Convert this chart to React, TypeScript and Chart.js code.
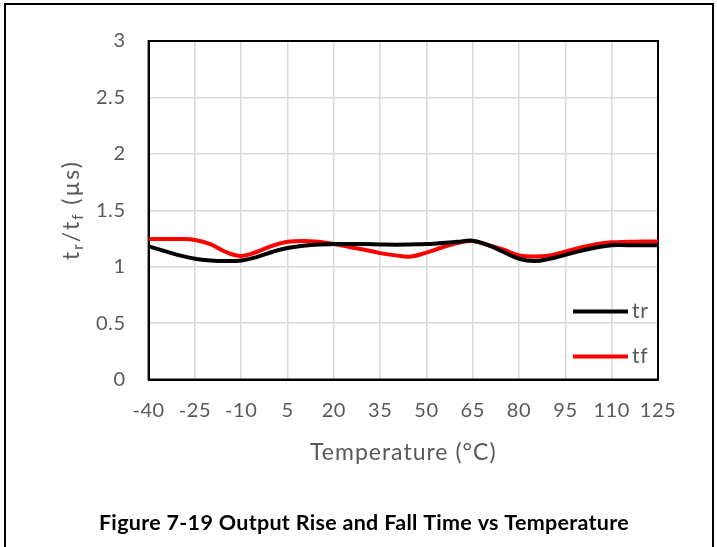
import React, { useEffect, useRef } from "react";
import { Chart, registerables } from "chart.js";

Chart.register(...registerables);

const temps = [-40, -35, -30, -25, -20, -15, -10, -5, 0, 5, 10, 15, 20, 25, 30, 35, 40, 45, 50, 55, 60, 65, 70, 75, 80, 85, 90, 95, 100, 105, 110, 115, 120, 125];
const trValues = [1.18, 1.14, 1.1, 1.07, 1.055, 1.05, 1.055, 1.085, 1.13, 1.165, 1.185, 1.197, 1.2, 1.2, 1.2, 1.197, 1.195, 1.197, 1.2, 1.21, 1.22, 1.23, 1.19, 1.13, 1.07, 1.05, 1.07, 1.105, 1.14, 1.17, 1.19, 1.19, 1.19, 1.19];
const tfValues = [1.245, 1.245, 1.245, 1.237, 1.2, 1.13, 1.095, 1.13, 1.185, 1.22, 1.228, 1.22, 1.2, 1.175, 1.15, 1.12, 1.1, 1.09, 1.125, 1.17, 1.21, 1.228, 1.19, 1.15, 1.1, 1.09, 1.1, 1.133, 1.17, 1.2, 1.216, 1.22, 1.222, 1.222];
const xTickLabels = [-40, -25, -10, 5, 20, 35, 50, 65, 80, 95, 110, 125];
const yTickValues = [0, 0.5, 1, 1.5, 2, 2.5, 3];
const seriesNames = ["tr", "tf"];
const seriesColors = ["#000000", "#ff0000"];

const FONT = "Lato, 'Open Sans', sans-serif";
const GRAY = "#595959";

const decorPlugin = {
  id: "decor",
  beforeDraw(chart: any) {
    chart.ctx.letterSpacing = "0.6px";
  },
  beforeDatasetsDraw(chart: any) {
    const { ctx, chartArea: a } = chart;
    ctx.save();
    ctx.strokeStyle = "#000";
    ctx.lineWidth = 2;
    ctx.strokeRect(a.left, a.top, a.right - a.left, a.bottom - a.top);
    ctx.restore();
  },
  afterDraw(chart: any) {
    const { ctx, chartArea: a } = chart;
    ctx.save();
    // outer figure border
    ctx.strokeStyle = "#000";
    ctx.lineWidth = 2;
    ctx.beginPath();
    ctx.moveTo(5, 547);
    ctx.lineTo(5, 4);
    ctx.lineTo(713, 4);
    ctx.lineTo(713, 547);
    ctx.stroke();

    // legend (inside plot)
    const legY = [311.5, 356.5];
    chart.data.datasets.forEach((ds: any, i: number) => {
      ctx.strokeStyle = ds.borderColor;
      ctx.lineWidth = 4;
      ctx.beginPath();
      ctx.moveTo(573, legY[i]);
      ctx.lineTo(628, legY[i]);
      ctx.stroke();
      ctx.fillStyle = GRAY;
      ctx.font = `21px ${FONT}`;
      ctx.textAlign = "left";
      ctx.textBaseline = "middle";
      ctx.fillText(ds.label, 632, legY[i]);
    });

    // x axis title
    ctx.fillStyle = GRAY;
    ctx.letterSpacing = "1px";
    ctx.font = `23px ${FONT}`;
    ctx.textAlign = "center";
    ctx.textBaseline = "middle";
    ctx.fillText("Temperature (°C)", (a.left + a.right) / 2, 453);

    // y axis title with subscripts
    const parts: [string, boolean][] = [["t", false], ["r", true], ["/t", false], ["f", true], [" (µs)", false]];
    const mainFont = `23px ${FONT}`;
    const subFont = `15px ${FONT}`;
    ctx.letterSpacing = "2px";
    let total = 0;
    parts.forEach(([t, sub]) => {
      ctx.font = sub ? subFont : mainFont;
      total += ctx.measureText(t).width;
    });
    ctx.translate(72, 210);
    ctx.rotate(-Math.PI / 2);
    ctx.textAlign = "left";
    ctx.textBaseline = "middle";
    let x = -total / 2;
    parts.forEach(([t, sub]) => {
      ctx.font = sub ? subFont : mainFont;
      ctx.fillText(t, x, sub ? 6 : 0);
      x += ctx.measureText(t).width;
    });
    ctx.setTransform(1, 0, 0, 1, 0, 0);

    // caption
    ctx.letterSpacing = "0.3px";
    ctx.fillStyle = "#000";
    ctx.font = `bold 21.5px ${FONT}`;
    ctx.textAlign = "center";
    ctx.textBaseline = "middle";
    ctx.fillText("Figure 7-19 Output Rise and Fall Time vs Temperature", 364, 523);
    ctx.restore();
  },
};

export default function App() {
  const ref = useRef<HTMLCanvasElement>(null);
  useEffect(() => {
    document.body.style.margin = "0";
    const canvas = ref.current!;
    const chart = new Chart(canvas, {
      type: "line",
      data: {
        datasets: [trValues, tfValues].map((vals, i) => ({
          label: seriesNames[i],
          data: temps.map((t, j) => ({ x: t, y: vals[j] })),
          borderColor: seriesColors[i],
          backgroundColor: seriesColors[i],
          borderWidth: 4,
          pointRadius: 0,
          tension: 0.4,
          fill: false,
        })),
      },
      options: {
        animation: false,
        responsive: false,
        maintainAspectRatio: false,
        layout: { padding: { left: 0, right: 59, top: 41, bottom: 0 } },
        plugins: { legend: { display: false }, tooltip: { enabled: false }, title: { display: false } },
        scales: {
          x: {
            type: "linear",
            min: -40,
            max: 125,
            afterBuildTicks: (s: any) => {
              s.ticks = xTickLabels.map((v) => ({ value: v }));
            },
            afterFit: (s: any) => {
              s.height = 167.5;
            },
            grid: { color: "#d9d9d9", lineWidth: 1.5, drawTicks: false },
            border: { display: true, color: "#000", width: 2 },
            ticks: {
              color: GRAY,
              font: { family: FONT, size: 20 },
              padding: 19,
              maxRotation: 0,
              autoSkip: false,
              callback: (v: any) => String(v),
            },
          },
          y: {
            min: 0,
            max: 3,
            afterBuildTicks: (s: any) => {
              s.ticks = yTickValues.map((v) => ({ value: v }));
            },
            afterFit: (s: any) => {
              s.width = 148.6;
            },
            grid: { color: "#d9d9d9", lineWidth: 1.5, drawTicks: false },
            border: { display: true, color: "#000", width: 2 },
            ticks: {
              color: GRAY,
              font: { family: FONT, size: 20 },
              padding: 23,
              callback: (v: any) => String(v),
            },
          },
        },
      },
      plugins: [decorPlugin],
    });
    return () => chart.destroy();
  }, []);
  return (
    <div style={{ width: 717, height: 547, background: "#fff" }}>
      <canvas ref={ref} width={717} height={547} style={{ display: "block" }} />
    </div>
  );
}
